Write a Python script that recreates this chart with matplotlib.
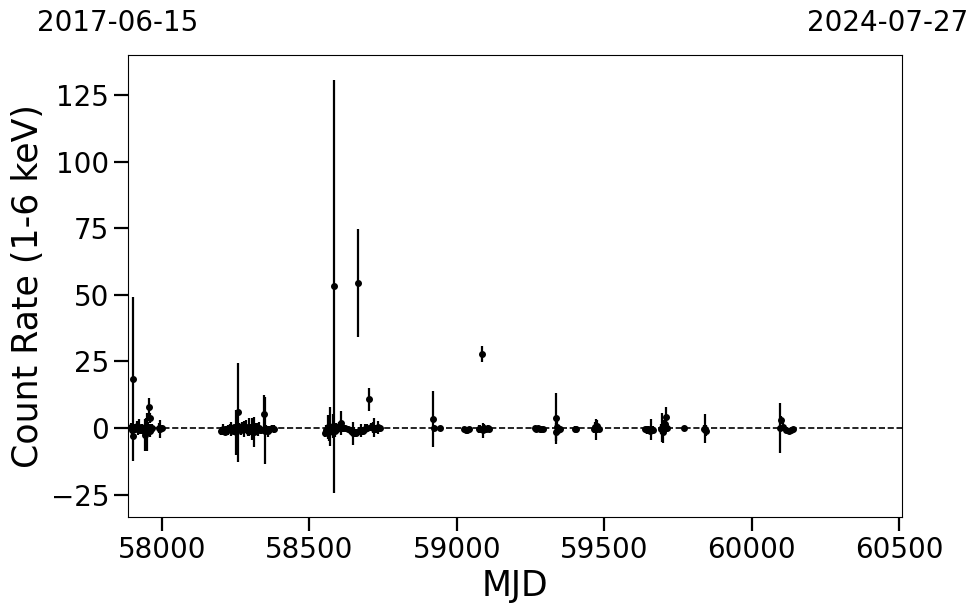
import numpy as np
import matplotlib
matplotlib.use("Agg")
import matplotlib.pyplot as plt

# light curve: MJD, count rate (1-6 keV), 1-sigma error
mjd = [57896, 57899, 57901, 57902, 57905, 57909, 57914, 57920, 57923, 57928,
       57933, 57938, 57941, 57945, 57949, 57954, 57956, 57958, 57960, 57963,
       57967, 57990, 57994, 58000,
       58201, 58207, 58213, 58219, 58224, 58230, 58235, 58240, 58245, 58251,
       58258, 58261, 58267, 58273, 58279, 58285, 58291, 58297, 58303, 58307,
       58313, 58319, 58325, 58331, 58337, 58346, 58348, 58353, 58360, 58367,
       58373, 58380,
       58552, 58558, 58563, 58568, 58571, 58575, 58580, 58583, 58586, 58590,
       58595, 58600, 58608, 58614, 58621, 58630, 58640, 58647, 58652, 58658,
       58665, 58670, 58676, 58682, 58688, 58695, 58704, 58708, 58715, 58720,
       58726, 58732, 58738,
       58921, 58923, 58942, 59026, 59031, 59036, 59041, 59074, 59079, 59087,
       59090, 59094, 59100, 59106, 59111, 59264, 59269, 59275, 59281, 59287,
       59293, 59335, 59338, 59341, 59344, 59349, 59401, 59406, 59465, 59469,
       59473, 59476, 59481, 59638, 59644, 59649, 59654, 59660, 59666, 59694,
       59697, 59699, 59703, 59707, 59710, 59714, 59772, 59839, 59842, 59845,
       60096, 60101, 60105, 60118, 60126, 60134, 60142]

rate = [0.5, -0.8, 18.4, -2.9, 0.3, -0.5, 0.8, -0.2, 0.5, -0.6,
        0.2, -1.0, -2.5, 0.8, -1.5, 0.3, 7.9, 3.8, -1.0, -0.4,
        0.2, 0.0, -0.3, 0.1,
        -1.0, -0.5, -1.5, -0.3, -0.8, 0.2, -0.4, -1.0, 0.3, -1.6,
        5.9, 0.5, -0.6, 0.8, -0.2, 0.5, -1.0, 0.4, -0.5, -0.4,
        -1.5, 0.3, -0.6, 0.2, -0.8, 5.3, -1.0, -0.3, -1.2, -0.5,
        0.2, -0.3,
        -2.0, -0.8, 0.5, -1.5, 0.5, -0.5, 0.8, 53.3, -1.0, 0.3,
        -0.4, 0.6, 1.9, 0.0, 0.2, -0.3, -1.0, -2.0, -1.5, -1.8,
        54.4, -1.2, -0.8, -1.0, -0.3, 0.0, 10.8, 0.5, 0.2, 0.1,
        -0.2, 0.3, -0.1,
        3.4, 0.0, 0.0, -0.3, -0.6, -0.8, -0.5, -0.5, -0.2, 27.8,
        -0.8, 0.2, -0.3, 0.0, -0.2, 0.0, -0.2, 0.1, -0.3, -0.2,
        -0.4, 3.6, -1.5, 0.5, -0.8, -0.3, -0.2, -0.5, -0.5, 0.3,
        -0.5, 0.6, -0.3, -0.5, -0.8, -0.3, -1.0, -0.5, -0.6, -0.3,
        0.2, -1.5, 0.5, 1.5, 4.2, 0.0, 0.0, -0.5, -0.3, -1.0,
        0.0, 3.0, 0.5, -0.8, -1.0, -0.6, -0.5]

err = [1.5, 2.0, 30.7, 1.2, 1.0, 1.5, 1.8, 2.5, 2.8, 1.5,
       1.2, 2.0, 6.0, 3.0, 7.0, 2.0, 3.2, 2.0, 2.5, 1.5,
       1.2, 2.0, 3.5, 1.0,
       1.5, 2.0, 1.2, 1.0, 1.8, 1.5, 2.5, 1.2, 1.0, 8.5,
       18.7, 1.5, 2.0, 1.5, 3.0, 2.5, 2.0, 3.5, 2.0, 4.1,
       5.5, 1.5, 2.5, 2.0, 1.5, 7.1, 12.5, 1.5, 2.0, 1.2,
       1.0, 1.5,
       1.5, 2.0, 4.5, 3.5, 7.4, 2.0, 4.4, 77.5, 2.5, 1.5,
       2.0, 1.5, 4.5, 1.5, 1.0, 1.2, 1.5, 4.4, 2.0, 1.5,
       20.2, 1.5, 2.5, 1.5, 2.0, 1.5, 4.4, 1.5, 2.0, 3.5,
       1.5, 2.5, 1.2,
       10.5, 1.0, 0.8, 0.8, 1.0, 0.8, 1.0, 1.5, 1.2, 3.0,
       2.8, 1.5, 1.2, 1.0, 0.8, 0.8, 1.0, 0.8, 0.8, 1.0,
       0.8, 9.5, 3.5, 2.0, 1.5, 1.0, 0.8, 1.0, 1.5, 2.0,
       4.0, 2.5, 1.2, 1.0, 1.5, 1.2, 1.0, 4.0, 1.2, 2.0,
       5.3, 4.0, 2.5, 3.0, 3.8, 1.5, 0.6, 1.5, 5.4, 2.0,
       9.4, 1.5, 1.5, 1.0, 0.8, 0.8, 0.8]

start_date = "2017-06-15"
end_date = "2024-07-27"

fig = plt.figure(figsize=(9.8, 6.13), dpi=100)
ax = fig.add_axes([0.1306, 0.1566, 0.7898, 0.7534])

ax.errorbar(mjd, rate, yerr=err, fmt='o', color='k', ms=4, elinewidth=1.6, capsize=0)
ax.axhline(0, color='k', ls='--', lw=1.2)

ax.set_xlim(57885, 60510)
ax.set_ylim(-33.4, 140)
ax.set_xticks([58000, 58500, 59000, 59500, 60000, 60500])
ax.set_yticks([-25, 0, 25, 50, 75, 100, 125])
ax.tick_params(labelsize=20, length=10, width=1.6)
ax.set_xlabel("MJD", fontsize=25)
ax.set_ylabel("Count Rate (1-6 keV)", fontsize=25)

fig.text(0.12, 0.962, start_date, fontsize=20, ha='center', va='center')
fig.text(0.906, 0.962, end_date, fontsize=20, ha='center', va='center')

fig.savefig("out.png", dpi=100)
